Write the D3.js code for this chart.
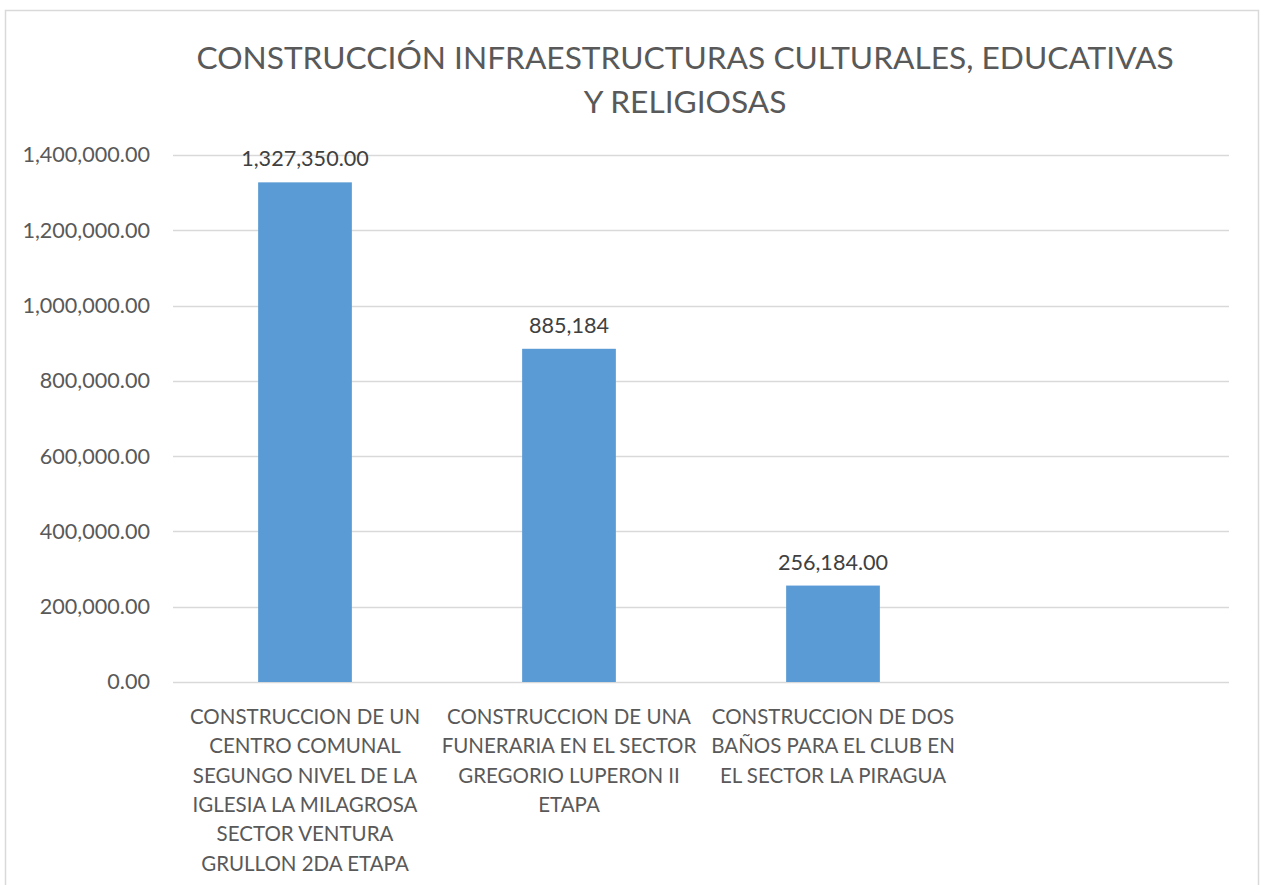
<!DOCTYPE html>
<html>
<head>
<meta charset="utf-8">
<script src="https://cdn.jsdelivr.net/npm/d3@7"></script>
<style>
  html, body { margin: 0; padding: 0; background: #fff; }
  svg { display: block; font-family: Lato, "Open Sans", sans-serif; }
</style>
</head>
<body>
<svg id="chart"></svg>
<script>
// Chart data
const titleLines = ['CONSTRUCCIÓN INFRAESTRUCTURAS CULTURALES, EDUCATIVAS', 'Y RELIGIOSAS'];

const categories = [
  ['CONSTRUCCION DE UN', 'CENTRO COMUNAL', 'SEGUNGO NIVEL DE LA', 'IGLESIA LA MILAGROSA', 'SECTOR VENTURA', 'GRULLON 2DA ETAPA'],
  ['CONSTRUCCION DE UNA', 'FUNERARIA EN EL SECTOR', 'GREGORIO LUPERON II', 'ETAPA'],
  ['CONSTRUCCION DE DOS', 'BAÑOS PARA EL CLUB EN', 'EL SECTOR LA PIRAGUA'],
  []
];
const values = [1327350, 885184, 256184, null];
const valueLabels = ['1,327,350.00', '885,184', '256,184.00', ''];
const yTicks = [0, 200000, 400000, 600000, 800000, 1000000, 1200000, 1400000];

const width = 1265;
const height = 885;
const margin = { top: 155, right: 36, bottom: 203, left: 173 };
const plotW = width - margin.left - margin.right;
const plotH = height - margin.top - margin.bottom;

const svg = d3.select('#chart')
  .attr('width', width)
  .attr('height', height);

// Chart area border (bottom edge runs off the picture)
svg.append('rect')
  .attr('x', 5.5)
  .attr('y', 10.5)
  .attr('width', 1253)
  .attr('height', 900)
  .style('fill', '#fff')
  .style('stroke', '#d9d9d9')
  .style('stroke-width', 1.5);

// Title
svg.append('text')
  .attr('x', 685)
  .attr('y', 69)
  .attr('text-anchor', 'middle')
  .style('font-size', '31.7px')
  .style('fill', '#595959')
  .selectAll('tspan')
  .data(titleLines)
  .enter()
  .append('tspan')
  .attr('x', 685)
  .attr('dy', (d, i) => i === 0 ? 0 : 44)
  .text(d => d);

const g = svg.append('g')
  .attr('transform', `translate(${margin.left},${margin.top})`);

const x = d3.scaleBand()
  .domain(d3.range(categories.length))
  .range([0, plotW])
  .paddingInner(0.645)
  .paddingOuter(0.3225);

const y = d3.scaleLinear()
  .domain([0, 1400000])
  .range([plotH, 0]);

// Gridlines
g.append('g')
  .attr('class', 'grid')
  .selectAll('line')
  .data(yTicks)
  .enter()
  .append('line')
  .attr('x1', 0)
  .attr('x2', plotW)
  .attr('y1', d => Math.round(y(d)) + 0.5)
  .attr('y2', d => Math.round(y(d)) + 0.5)
  .style('stroke', '#d9d9d9')
  .style('stroke-width', 1.5);

// Y axis labels
const yAxis = d3.axisLeft(y)
  .tickValues(yTicks)
  .tickSize(0)
  .tickPadding(23)
  .tickFormat(d3.format(',.2f'));

const yAxisG = g.append('g')
  .attr('class', 'axis y-axis')
  .call(yAxis);
yAxisG.select('.domain').remove();
yAxisG.selectAll('text')
  .style('font-size', '21.6px')
  .style('font-family', 'Lato, "Open Sans", sans-serif')
  .style('fill', '#595959');

// Bars
const barData = values.map((v, i) => ({ i, v, label: valueLabels[i] })).filter(d => d.v != null);

g.selectAll('.bar')
  .data(barData)
  .enter()
  .append('rect')
  .attr('class', 'bar')
  .attr('x', d => x(d.i))
  .attr('width', x.bandwidth())
  .attr('y', d => y(d.v))
  .attr('height', d => plotH - y(d.v))
  .style('fill', '#5b9bd5');

// Value labels
g.selectAll('.value-label')
  .data(barData)
  .enter()
  .append('text')
  .attr('class', 'value-label')
  .attr('x', d => x(d.i) + x.bandwidth() / 2)
  .attr('y', d => y(d.v) - 16)
  .attr('text-anchor', 'middle')
  .style('font-size', '21.6px')
  .style('fill', '#404040')
  .text(d => d.label);

// Category labels
const catG = g.selectAll('.cat-label')
  .data(categories)
  .enter()
  .append('text')
  .attr('class', 'cat-label')
  .attr('text-anchor', 'middle')
  .style('font-size', '20.5px')
  .style('fill', '#595959')
  .attr('transform', (d, i) => `translate(${x(i) + x.bandwidth() / 2},${plotH + 42})`);

catG.selectAll('tspan')
  .data(d => d)
  .enter()
  .append('tspan')
  .attr('x', 0)
  .attr('y', (d, i) => i * 29.3)
  .text(d => d);
</script>
</body>
</html>
